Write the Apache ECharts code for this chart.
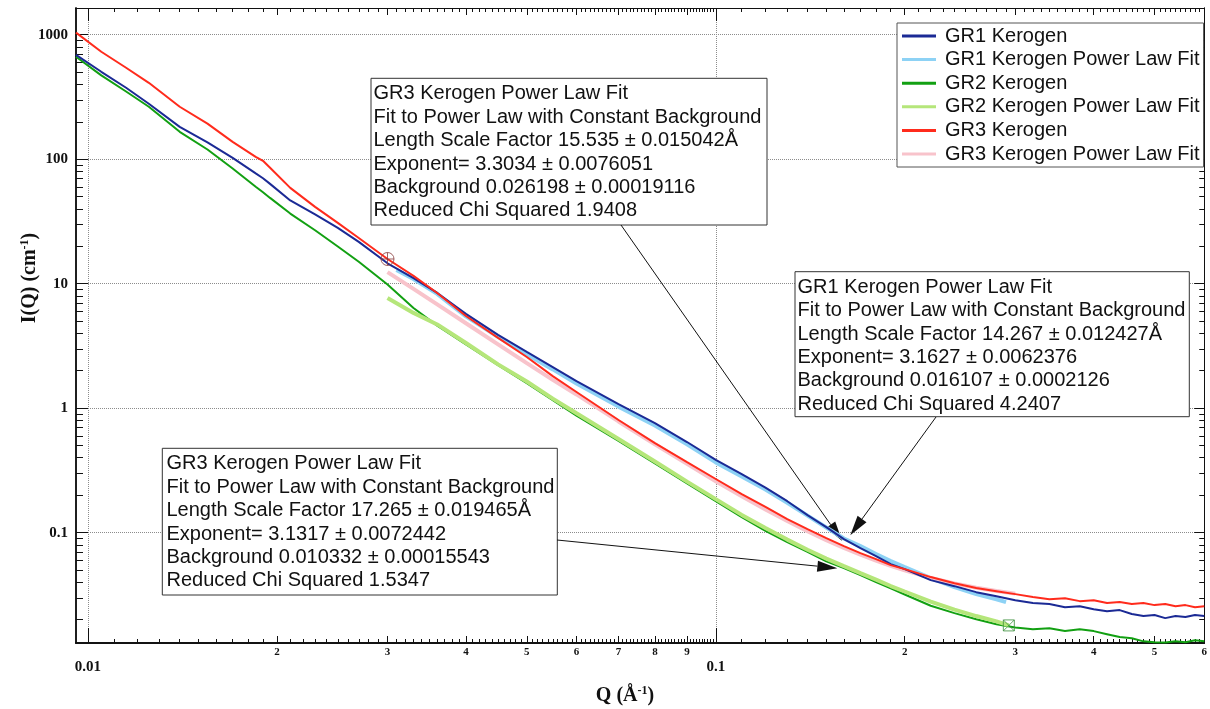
<!DOCTYPE html>
<html>
<head>
<meta charset="utf-8">
<script src="https://cdn.jsdelivr.net/npm/echarts@6/dist/echarts.min.js"></script>
<style>
  html, body { margin: 0; padding: 0; background: #ffffff; }
  #chart { width: 1210px; height: 709px; }
</style>
</head>
<body>
<div id="chart"></div>
<script>
// Scattering vector Q (1/Å) shared by the three measured curves
const qData = [0.00957, 0.0105, 0.0115, 0.0125, 0.014, 0.0155, 0.017, 0.0185, 0.019, 0.0195,
  0.021, 0.023, 0.025, 0.027, 0.03, 0.033, 0.036, 0.04, 0.045, 0.05,
  0.055, 0.06, 0.07, 0.08, 0.09, 0.1, 0.11, 0.12, 0.13, 0.14,
  0.15, 0.16, 0.17, 0.18, 0.19, 0.2, 0.22, 0.24, 0.26, 0.28,
  0.3, 0.32, 0.34, 0.36, 0.38, 0.40, 0.42, 0.44, 0.46, 0.48,
  0.50, 0.52, 0.54, 0.56, 0.58, 0.60];

// Measured intensity I(Q) in 1/cm
const gr1 = [690, 504, 375, 279, 182, 136.7, 102.6, 77.0, 70.4, 63.4,
  46.7, 36.1, 28.1, 21.7, 14.6, 11.1, 8.43, 5.72, 3.88, 2.83,
  2.14, 1.65, 1.08, 0.760, 0.535, 0.384, 0.296, 0.230, 0.179, 0.1385,
  0.1109, 0.0888, 0.0752, 0.0648, 0.0559, 0.0510, 0.0416, 0.0372, 0.0333, 0.0309,
  0.0287, 0.0272, 0.0267, 0.0252, 0.0257, 0.0243, 0.0234, 0.0239, 0.0222, 0.0214,
  0.0218, 0.0206, 0.0214, 0.0210, 0.0218, 0.0214];
const gr2 = [666, 472, 350, 264, 166, 119.7, 84.2, 60.2, 54.3, 48.9,
  36.6, 26.9, 19.9, 15.0, 9.87, 6.39, 4.61, 3.26, 2.22, 1.59,
  1.16, 0.872, 0.547, 0.360, 0.249, 0.179, 0.1335, 0.1036, 0.0840, 0.0702,
  0.0589, 0.0519, 0.0456, 0.0402, 0.0357, 0.0319, 0.0259, 0.0226, 0.0202, 0.0184,
  0.0173, 0.0168, 0.0171, 0.0162, 0.0168, 0.0162, 0.0153, 0.0145, 0.0142, 0.0134,
  0.0132, 0.0131, 0.0134, 0.0132, 0.0137, 0.0134];
const gr3 = [1040, 730, 543, 411, 264, 193, 138, 104.5, 97.1, 85.3,
  58.9, 41.4, 30.8, 23.3, 15.8, 11.55, 8.43, 5.50, 3.67, 2.58,
  1.81, 1.35, 0.804, 0.525, 0.369, 0.270, 0.204, 0.161, 0.1286, 0.1069,
  0.0905, 0.0780, 0.0686, 0.0613, 0.0549, 0.0510, 0.0440, 0.0393, 0.0359, 0.0339,
  0.0321, 0.0304, 0.0292, 0.0298, 0.0282, 0.0287, 0.0272, 0.0277, 0.0267, 0.0272,
  0.0262, 0.0267, 0.0257, 0.0262, 0.0252, 0.0257];

// Power-law fits (each over its own Q range)
const qFit1 = [0.031, 0.033, 0.036, 0.04, 0.045, 0.05, 0.055, 0.06, 0.07, 0.08,
  0.09, 0.1, 0.11, 0.12, 0.13, 0.14, 0.15, 0.16, 0.17, 0.18,
  0.19, 0.2, 0.22, 0.24, 0.26, 0.28, 0.29];
const gr1Fit = [12.9, 10.9, 8.28, 5.47, 3.74, 2.71, 2.05, 1.58, 1.03, 0.727,
  0.512, 0.367, 0.283, 0.222, 0.174, 0.137, 0.110, 0.0899, 0.0780, 0.0673,
  0.0591, 0.0529, 0.0432, 0.0365, 0.0321, 0.0292, 0.0277];
const qFit2 = [0.03, 0.033, 0.036, 0.04, 0.045, 0.05, 0.055, 0.06, 0.07, 0.08,
  0.09, 0.1, 0.11, 0.12, 0.13, 0.14, 0.15, 0.16, 0.17, 0.18,
  0.19, 0.2, 0.22, 0.24, 0.26, 0.28, 0.293];
const gr2Fit = [7.69, 5.83, 4.71, 3.34, 2.25, 1.64, 1.195, 0.910, 0.565, 0.373,
  0.257, 0.186, 0.139, 0.109, 0.0880, 0.0730, 0.0619, 0.0538, 0.0473, 0.0420,
  0.0373, 0.0337, 0.0280, 0.0241, 0.0214, 0.0194, 0.0180];
const qFit3 = [0.03, 0.033, 0.036, 0.04, 0.045, 0.05, 0.055, 0.06, 0.07, 0.08,
  0.09, 0.1, 0.11, 0.12, 0.13, 0.14, 0.15, 0.16, 0.17, 0.18,
  0.19, 0.2, 0.22, 0.24, 0.26, 0.28, 0.3];
const gr3Fit = [12.4, 9.08, 6.82, 4.81, 3.26, 2.30, 1.69, 1.29, 0.783, 0.514,
  0.357, 0.259, 0.196, 0.1535, 0.124, 0.1027, 0.0871, 0.0754, 0.0665, 0.0596,
  0.0541, 0.0498, 0.0434, 0.0391, 0.0361, 0.0340, 0.0324];

// Series names
const seriesNames = ['GR1 Kerogen', 'GR1 Kerogen Power Law Fit', 'GR2 Kerogen',
  'GR2 Kerogen Power Law Fit', 'GR3 Kerogen', 'GR3 Kerogen Power Law Fit'];

// Axis ranges and tick labels
const X_MIN = 0.00957, X_MAX = 0.6;
const Y_MIN = 0.013, Y_MAX = 1640;
const xDecades = [0.01, 0.1];
const xDecadeLabels = ['0.01', '0.1'];
const xDigits = [0.02, 0.03, 0.04, 0.05, 0.06, 0.07, 0.08, 0.09, 0.2, 0.3, 0.4, 0.5, 0.6];
const xDigitLabels = ['2', '3', '4', '5', '6', '7', '8', '9', '2', '3', '4', '5', '6'];
const yDecades = [0.1, 1, 10, 100, 1000];
const yDecadeLabels = ['0.1', '1', '10', '100', '1000'];

// Fit result annotations
const fitNotes = [
  ['GR3 Kerogen Power Law Fit', 'Fit to Power Law with Constant Background',
   'Length Scale Factor 15.535 ± 0.015042Å', 'Exponent= 3.3034 ± 0.0076051',
   'Background 0.026198 ± 0.00019116', 'Reduced Chi Squared 1.9408'],
  ['GR1 Kerogen Power Law Fit', 'Fit to Power Law with Constant Background',
   'Length Scale Factor 14.267 ± 0.012427Å', 'Exponent= 3.1627 ± 0.0062376',
   'Background 0.016107 ± 0.0002126', 'Reduced Chi Squared 4.2407'],
  ['GR3 Kerogen Power Law Fit', 'Fit to Power Law with Constant Background',
   'Length Scale Factor 17.265 ± 0.019465Å', 'Exponent= 3.1317 ± 0.0072442',
   'Background 0.010332 ± 0.00015543', 'Reduced Chi Squared 1.5347']
];
// Points on the curves that each note's arrow points at (Q, I)
const arrowTips = [[0.159, 0.0856], [0.1638, 0.0956], [0.1562, 0.0519]];

// ---------------------------------------------------------------
const boxRects = [[371, 78.3, 396, 146.7], [795, 271.7, 394.3, 145], [162.3, 448.3, 395, 146.7]];
const textInset = [2.5, 2.5, 4.2];
const arrowStarts = [[621, 225], [936, 417], [557, 540]];

// every 0.001 between 0.01 and 0.1, every 0.01 above 0.1
const xFine = [];
for (let k = 11; k < 100; k++) if (k % 10) xFine.push(k / 1000);
for (let k = 11; k < 60; k++) if (k % 10) xFine.push(k / 100);
const yMinor = [];
[0.01, 0.1, 1, 10, 100].forEach(d => { for (let m = 2; m <= 9; m++) yMinor.push(Number((m * d).toPrecision(3))); });

function labelFor(vals, labels) {
  return function (v) {
    let best = 0, bd = Infinity;
    for (let i = 0; i < vals.length; i++) {
      const d = Math.abs(Math.log(vals[i]) - Math.log(v));
      if (d < bd) { bd = d; best = i; }
    }
    return labels[best];
  };
}

const SERIF = '"Liberation Serif", "Times New Roman", serif';
const SANS = '"Liberation Sans", Arial, sans-serif';

function logAxis(isX, position, ticks, len, label, split) {
  const heavy = position === 'bottom' || position === 'left';
  return {
    type: 'log', logBase: 10,
    min: isX ? X_MIN : Y_MIN, max: isX ? X_MAX : Y_MAX,
    position: position,
    axisLine: { show: true, onZero: false, lineStyle: { color: '#111', width: heavy ? 1.5 : 1 } },
    axisTick: { show: true, inside: true, length: len, customValues: ticks, lineStyle: { color: '#111', width: 1 } },
    axisLabel: label || { show: false },
    splitLine: split ? { show: true, lineStyle: { color: '#8c8c8c', type: 'dotted', width: 1 } } : { show: false },
    minorTick: { show: false },
    minorSplitLine: { show: false },
    axisPointer: { show: false },
    silent: true
  };
}

const xAxes = [
  logAxis(true, 'bottom', xDecades, 15, {
    show: true, customValues: xDecades, formatter: labelFor(xDecades, xDecadeLabels),
    fontFamily: SERIF, fontWeight: 'bold', fontSize: 15, color: '#111', margin: 17
  }, true),
  logAxis(true, 'bottom', xDigits, 7, {
    show: true, customValues: xDigits, formatter: labelFor(xDigits, xDigitLabels),
    fontFamily: SERIF, fontWeight: 'bold', fontSize: 11, color: '#111', margin: 4
  }),
  logAxis(true, 'bottom', xFine, 4),
  logAxis(true, 'top', xDecades, 13),
  logAxis(true, 'top', xDigits, 7),
  logAxis(true, 'top', xFine, 4)
];
const yAxes = [
  logAxis(false, 'left', yDecades, 12, {
    show: true, customValues: yDecades, formatter: labelFor(yDecades, yDecadeLabels),
    fontFamily: SERIF, fontWeight: 'bold', fontSize: 15, color: '#111', margin: 8
  }, true),
  logAxis(false, 'left', yMinor, 7),
  logAxis(false, 'right', yDecades, 10),
  logAxis(false, 'right', yMinor, 5)
];

function curve(name, qs, vs, color, width, z) {
  return {
    type: 'line', name: name,
    xAxisIndex: 0, yAxisIndex: 0,
    data: qs.map((q, i) => [q, vs[i]]),
    symbol: 'none', showSymbol: false,
    lineStyle: { color: color, width: width },
    itemStyle: { color: color },
    emphasis: { disabled: true },
    clip: true, silent: true, animation: false, z: z
  };
}

const chart = echarts.init(document.getElementById('chart'), null, { renderer: 'canvas' });

chart.setOption({
  backgroundColor: '#ffffff',
  animation: false,
  grid: { left: 76, top: 8, right: 2, bottom: 66, show: false },
  xAxis: xAxes,
  yAxis: yAxes,
  legend: {
    show: true, orient: 'vertical', left: 897, top: 23,
    padding: [3, 4, 3, 5], itemGap: 3.6, itemWidth: 34, itemHeight: 3,
    icon: 'rect',
    backgroundColor: '#ffffff', borderColor: '#555', borderWidth: 1,
    selectedMode: false, data: seriesNames,
    textStyle: { fontFamily: SANS, fontSize: 20, color: '#111', lineHeight: 20, padding: [0, 0, 0, 4] }
  },
  series: [
    curve(seriesNames[0], qData, gr1, '#1b2a95', 2, 4),
    curve(seriesNames[1], qFit1, gr1Fit, '#8dd2f5', 4, 2),
    curve(seriesNames[2], qData, gr2, '#12a012', 2, 3),
    curve(seriesNames[3], qFit2, gr2Fit, '#b5e67a', 4, 4),
    curve(seriesNames[4], qData, gr3, '#ff2b1c', 2, 4),
    curve(seriesNames[5], qFit3, gr3Fit, '#f8c3cb', 4, 3),
    {
      type: 'scatter', name: 'cursor A', xAxisIndex: 0, yAxisIndex: 0,
      data: [[qData[14], gr3[14]]],
      symbol: 'path://M0,10 A10,10 0 1,1 20,10 A10,10 0 1,1 0,10 Z M10,0 L10,20 M0,10 L20,10',
      symbolSize: 13,
      itemStyle: { color: 'rgba(0,0,0,0)', borderColor: '#8a3c3c', borderWidth: 1 },
      silent: true, z: 6
    },
    {
      type: 'scatter', name: 'cursor B', xAxisIndex: 0, yAxisIndex: 0,
      data: [[qFit2[qFit2.length - 1], gr2Fit[gr2Fit.length - 1]]],
      symbol: 'path://M0,0 L20,0 L20,20 L0,20 Z M0,0 L20,20 M20,0 L0,20',
      symbolSize: 11,
      itemStyle: { color: 'rgba(0,0,0,0)', borderColor: '#3a8f3a', borderWidth: 1 },
      silent: true, z: 6
    }
  ]
});

// Annotation boxes, arrows and axis titles
const overlay = [];
fitNotes.forEach((lines, i) => {
  const [bx, by, bw, bh] = boxRects[i];
  overlay.push({
    type: 'group', z: 100, silent: true,
    children: [
      { type: 'rect', shape: { x: bx, y: by, width: bw, height: bh },
        style: { fill: '#ffffff', stroke: '#333', lineWidth: 1 } },
      { type: 'text', x: bx + textInset[i], y: by + 3.8,
        style: { text: lines.join('\n'), font: '20px ' + SANS, lineHeight: 23.4,
                 fill: '#111', align: 'left', verticalAlign: 'top' } }
    ]
  });
});
arrowTips.forEach((tip, i) => {
  const p = chart.convertToPixel({ xAxisIndex: 0, yAxisIndex: 0 }, tip);
  const [sx, sy] = arrowStarts[i];
  const ang = Math.atan2(p[1] - sy, p[0] - sx);
  const L = 20, W = 5.5;
  const bx = p[0] - L * Math.cos(ang), by = p[1] - L * Math.sin(ang);
  const nx = -Math.sin(ang) * W, ny = Math.cos(ang) * W;
  overlay.push({
    type: 'group', z: 90, silent: true,
    children: [
      { type: 'line', shape: { x1: sx, y1: sy, x2: bx, y2: by }, style: { stroke: '#111', lineWidth: 1 } },
      { type: 'polygon', shape: { points: [[p[0], p[1]], [bx + nx, by + ny], [bx - nx, by - ny]] },
        style: { fill: '#111' } }
    ]
  });
});
overlay.push({
  type: 'text', x: 30, y: 278, rotation: Math.PI / 2, z: 100, silent: true,
  style: {
    text: '{a|I(Q) (cm}{s|-1}{a|)}', align: 'center', verticalAlign: 'middle',
    rich: {
      a: { fontFamily: SERIF, fontWeight: 'bold', fontSize: 20, lineHeight: 22, fill: '#111' },
      s: { fontFamily: SERIF, fontWeight: 'bold', fontSize: 12, lineHeight: 22, verticalAlign: 'top', fill: '#111' }
    }
  }
});
overlay.push({
  type: 'text', x: 625, y: 696, z: 100, silent: true,
  style: {
    text: '{a|Q (Å}{s|-1}{a|)}', align: 'center', verticalAlign: 'middle',
    rich: {
      a: { fontFamily: SERIF, fontWeight: 'bold', fontSize: 20, lineHeight: 22, fill: '#111' },
      s: { fontFamily: SERIF, fontWeight: 'bold', fontSize: 12, lineHeight: 22, verticalAlign: 'top', fill: '#111' }
    }
  }
});
chart.setOption({ graphic: overlay });
</script>
</body>
</html>
